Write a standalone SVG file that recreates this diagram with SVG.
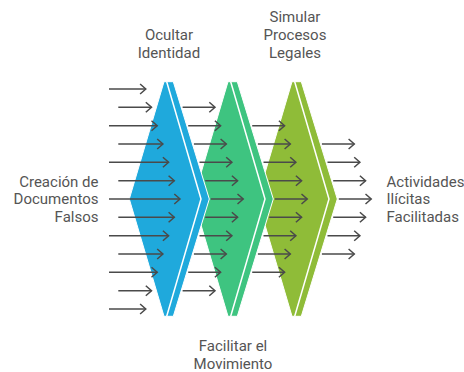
<svg xmlns="http://www.w3.org/2000/svg" width="464" height="372" viewBox="0 0 464 372">
<style>
.lbl{font-family:Roboto,"Liberation Sans",sans-serif;font-size:15px;fill:#555}
.sep{fill:none;stroke:#fff;stroke-width:1.5}
.shape{stroke:#fff;stroke-width:1}
.arr{stroke:#4a4a4a;stroke-width:1.5;fill:none;marker-end:url(#ah)}
</style>
<defs>
<marker id="ah" markerUnits="userSpaceOnUse" markerWidth="8" markerHeight="12" refX="6" refY="5" orient="auto" overflow="visible">
<path d="M0.3,0 L6,5 L0.3,10" fill="none" stroke="#4a4a4a" stroke-width="1.5"/>
</marker>
</defs>
<rect width="464" height="372" fill="#fff"/>
<g id="simular-procesos-legales">
<polygon class="shape" fill="#8fbc38" points="292,81.7 301.3,81.7 337.3,199 301.3,316.3 292,316.3 257.3,199"/>
<polyline class="sep" points="294.7,81.7 329,199 294.7,316.3"/>
<text class="lbl" x="295" y="22" text-anchor="middle">Simular</text>
<text class="lbl" x="295" y="40" text-anchor="middle">Procesos</text>
<text class="lbl" x="295" y="58" text-anchor="middle">Legales</text>
</g>
<g id="facilitar-movimiento">
<polygon class="shape" fill="#3ec480" points="228,81.7 237.3,81.7 273.3,199 237.3,316.3 228,316.3 193.3,199"/>
<polyline class="sep" points="230.7,81.7 265,199 230.7,316.3"/>
<text class="lbl" x="233" y="350.5" text-anchor="middle">Facilitar el</text>
<text class="lbl" x="233" y="368.5" text-anchor="middle">Movimiento</text>
</g>
<g id="ocultar-identidad">
<polygon class="shape" fill="#1fa9dc" points="164,81.7 173.3,81.7 209.3,199 173.3,316.3 164,316.3 129.3,199"/>
<polyline class="sep" points="166.7,81.7 201,199 166.7,316.3"/>
<text class="lbl" x="169" y="40" text-anchor="middle">Ocultar</text>
<text class="lbl" x="169" y="58" text-anchor="middle">Identidad</text>
</g>
<g id="creacion-documentos">
<text class="lbl" x="98.5" y="186.5" text-anchor="end">Creación de</text>
<text class="lbl" x="98.5" y="204.3" text-anchor="end">Documentos</text>
<text class="lbl" x="98.5" y="222" text-anchor="end">Falsos</text>
</g>
<g id="actividades-ilicitas">
<text class="lbl" x="386.5" y="186.5">Actividades</text>
<text class="lbl" x="386.5" y="204.3">Ilícitas</text>
<text class="lbl" x="386.5" y="222">Facilitadas</text>
</g>
<g id="connectors">
<line class="arr" x1="109" y1="89" x2="145.8" y2="89"/>
<line class="arr" x1="118.3" y1="107.3" x2="151.5" y2="107.3"/>
<line class="arr" x1="109" y1="125.7" x2="157.2" y2="125.7"/>
<line class="arr" x1="118.3" y1="144" x2="162.9" y2="144"/>
<line class="arr" x1="109" y1="162.3" x2="168.6" y2="162.3"/>
<line class="arr" x1="118.3" y1="180.7" x2="174.3" y2="180.7"/>
<line class="arr" x1="109" y1="199" x2="180" y2="199"/>
<line class="arr" x1="118.3" y1="217.3" x2="174.3" y2="217.3"/>
<line class="arr" x1="109" y1="235.7" x2="168.6" y2="235.7"/>
<line class="arr" x1="118.3" y1="254" x2="162.9" y2="254"/>
<line class="arr" x1="109" y1="272.3" x2="157.2" y2="272.3"/>
<line class="arr" x1="118.3" y1="290.7" x2="151.5" y2="290.7"/>
<line class="arr" x1="109" y1="309" x2="145.8" y2="309"/>

<line class="arr" x1="182.6" y1="107.3" x2="215" y2="107.3"/>
<line class="arr" x1="188.2" y1="125.7" x2="220.6" y2="125.7"/>
<line class="arr" x1="193.9" y1="144" x2="226.3" y2="144"/>
<line class="arr" x1="199.5" y1="162.3" x2="231.9" y2="162.3"/>
<line class="arr" x1="205.2" y1="180.7" x2="237.6" y2="180.7"/>
<line class="arr" x1="210.8" y1="199" x2="243.2" y2="199"/>
<line class="arr" x1="205.2" y1="217.3" x2="237.6" y2="217.3"/>
<line class="arr" x1="199.5" y1="235.7" x2="231.9" y2="235.7"/>
<line class="arr" x1="193.9" y1="254" x2="226.3" y2="254"/>
<line class="arr" x1="188.2" y1="272.3" x2="220.6" y2="272.3"/>
<line class="arr" x1="182.6" y1="290.7" x2="215" y2="290.7"/>

<line class="arr" x1="252.2" y1="125.7" x2="284.6" y2="125.7"/>
<line class="arr" x1="257.9" y1="144" x2="290.3" y2="144"/>
<line class="arr" x1="263.5" y1="162.3" x2="295.9" y2="162.3"/>
<line class="arr" x1="269.2" y1="180.7" x2="301.6" y2="180.7"/>
<line class="arr" x1="274.8" y1="199" x2="307.2" y2="199"/>
<line class="arr" x1="269.2" y1="217.3" x2="301.6" y2="217.3"/>
<line class="arr" x1="263.5" y1="235.7" x2="295.9" y2="235.7"/>
<line class="arr" x1="257.9" y1="254" x2="290.3" y2="254"/>
<line class="arr" x1="252.2" y1="272.3" x2="284.6" y2="272.3"/>

<line class="arr" x1="321.9" y1="144" x2="354.3" y2="144"/>
<line class="arr" x1="327.5" y1="162.3" x2="359.9" y2="162.3"/>
<line class="arr" x1="333.2" y1="180.7" x2="365.6" y2="180.7"/>
<line class="arr" x1="338.8" y1="199" x2="371.2" y2="199"/>
<line class="arr" x1="333.2" y1="217.3" x2="365.6" y2="217.3"/>
<line class="arr" x1="327.5" y1="235.7" x2="359.9" y2="235.7"/>
<line class="arr" x1="321.9" y1="254" x2="354.3" y2="254"/>
</g>
</svg>
